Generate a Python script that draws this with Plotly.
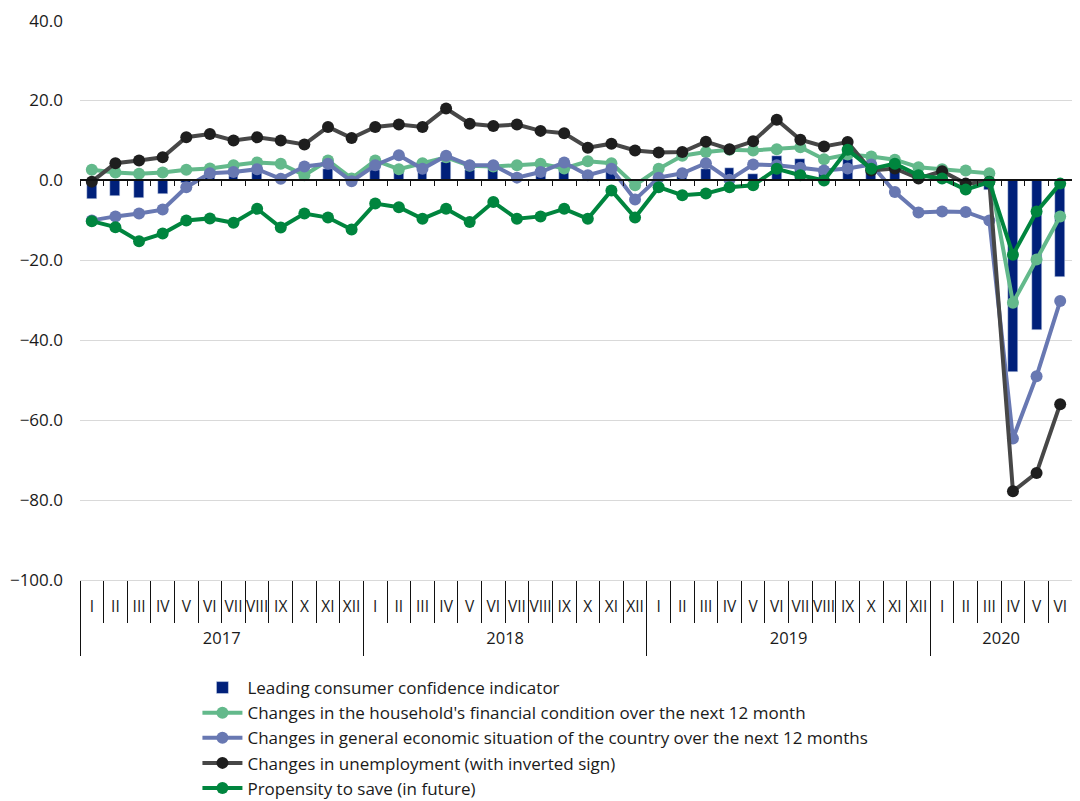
import plotly.graph_objects as go

years = ["2017", "2018", "2019", "2020"]
months_per_year = [12, 12, 12, 6]
month_names = ["I", "II", "III", "IV", "V", "VI", "VII", "VIII", "IX", "X", "XI", "XII"]

leading = [-4.6, -3.8, -4.3, -3.3, -0.7, 1.0, 1.2, 2.0, 0.3, 0.4, 2.8, 0.2,
           2.5, 2.0, 2.9, 4.5, 2.5, 2.8, 1.6, 1.5, 2.9, 1.2, 2.0, -0.5,
           0.5, 1.0, 2.9, 3.2, 1.7, 6.2, 5.4, 3.0, 5.4, 3.2, 2.5, 0.8,
           0.5, -0.5, -2.5, -47.9, -37.5, -24.2]
household = [2.7, 2.0, 1.7, 2.0, 2.7, 3.0, 3.8, 4.5, 4.2, 1.3, 5.0, 0.5,
             5.0, 2.8, 4.3, 5.8, 3.7, 3.5, 3.8, 4.2, 3.0, 4.8, 4.3, -1.2,
             2.9, 6.2, 7.1, 7.7, 7.5, 7.8, 8.3, 5.3, 6.5, 6.0, 5.2, 3.3,
             2.8, 2.5, 1.8, -30.6, -19.8, -9.0]
economy = [-10.0, -9.0, -8.3, -7.3, -1.7, 1.8, 2.1, 2.8, 0.4, 3.5, 4.2, -0.2,
           3.8, 6.3, 2.9, 6.2, 3.8, 3.8, 0.7, 2.1, 4.5, 1.3, 2.9, -4.8,
           0.7, 1.8, 4.3, 0.2, 4.0, 3.8, 3.2, 2.5, 3.0, 4.0, -2.9, -8.0,
           -7.8, -7.9, -10.0, -64.6, -49.0, -30.2]
unemployment = [-0.3, 4.3, 5.0, 5.8, 10.8, 11.6, 10.0, 10.8, 10.0, 9.0, 13.4, 10.6,
                13.4, 14.0, 13.4, 18.0, 14.2, 13.6, 14.0, 12.4, 11.8, 8.2, 9.2, 7.5,
                7.0, 7.1, 9.7, 7.8, 9.8, 15.2, 10.2, 8.5, 9.6, 2.5, 3.0, 0.5,
                2.3, -0.8, -0.3, -77.8, -73.2, -56.0]
saving = [-10.2, -11.7, -15.2, -13.3, -10.0, -9.5, -10.6, -7.1, -11.8, -8.3, -9.3, -12.3,
          -5.8, -6.7, -9.6, -7.1, -10.4, -5.4, -9.6, -9.0, -7.1, -9.6, -2.5, -9.3,
          -1.7, -3.7, -3.3, -1.7, -1.2, 2.9, 1.3, 0.0, 7.7, 2.9, 4.2, 1.3,
          0.5, -2.3, -0.4, -18.6, -7.8, -0.8]

y_ticks = [40, 20, 0, -20, -40, -60, -80, -100]

# derived positions
month_labels = []
for n in months_per_year:
    month_labels += month_names[:n]
N = len(month_labels)
xs = list(range(N))
boundaries = [i - 0.5 for i in range(N + 1)]
year_bounds = [-0.5]
year_centers = []
acc = 0
for n in months_per_year:
    year_centers.append(acc + (n - 1) / 2)
    acc += n
    year_bounds.append(acc - 0.5)

FONT = "Open Sans"
xr = [-0.5, N - 0.5]
yr = [-100, 40.15]

fig = go.Figure()
fig.add_trace(go.Bar(x=xs, y=leading, name="Leading consumer confidence indicator",
                     marker_color="#00207a", width=0.42))
line_specs = [
    (household, "Changes in the household's financial condition over the next 12 month", "#63b98b", "#63b98b"),
    (economy, "Changes in general economic situation of the country over the next 12 months", "#6878b2", "#6878b2"),
    (unemployment, "Changes in unemployment (with inverted sign)", "#474747", "#1e1e1e"),
    (saving, "Propensity to save (in future)", "#00853e", "#00853e"),
]
for vals, name, lc, mc in line_specs:
    fig.add_trace(go.Scatter(x=xs, y=vals, name=name, mode="lines+markers",
                             line=dict(color=lc, width=4),
                             marker=dict(color=mc, size=12)))

fig.update_layout(
    width=1080, height=801,
    paper_bgcolor="white", plot_bgcolor="white",
    margin=dict(l=72, r=16, t=12, b=229, autoexpand=False),
    font=dict(family=FONT, color="#1a1a1a"),
    bargap=0,
    showlegend=True,
    legend=dict(xref="container", yref="container", x=0.1754, y=0.1735,
                xanchor="left", yanchor="top",
                font=dict(family=FONT, size=17, color="#1a1a1a"),
                tracegroupgap=0, itemwidth=40, bgcolor="rgba(0,0,0,0)"),
    yaxis=dict(range=yr, tickvals=y_ticks, tickformat=".1f", automargin=False,
               showgrid=True, gridcolor="#d9d9d9", gridwidth=1.3,
               zeroline=False, showline=False, ticks="",
               ticklabelstandoff=16, tickfont=dict(size=17, family=FONT)),
    xaxis=dict(range=xr, tickmode="array", tickvals=xs, ticktext=month_labels, automargin=False,
               showgrid=False, zeroline=False, showline=True, linecolor="#d9d9d9", linewidth=1.3,
               ticks="", ticklabelstandoff=12, tickfont=dict(size=15.5, family=FONT),
               minor=dict(tickmode="array", tickvals=boundaries, ticks="outside",
                          ticklen=42, tickwidth=1.3, tickcolor="#111111", showgrid=False)),
    xaxis2=dict(range=xr, overlaying="x", anchor="free", position=(0 - yr[0]) / (yr[1] - yr[0]),
                side="bottom", showline=True, linecolor="#111111", linewidth=1.5, automargin=False,
                tickmode="array", tickvals=boundaries, ticks="outside", ticklen=5,
                tickwidth=1.3, tickcolor="#111111",
                showticklabels=False, showgrid=False, zeroline=False),
    xaxis3=dict(range=xr, overlaying="x", anchor="y", side="bottom", automargin=False,
                tickmode="array", tickvals=year_centers, ticktext=years,
                ticks="", ticklabelstandoff=46, tickfont=dict(size=16.5, family=FONT),
                showgrid=False, zeroline=False, showline=False,
                minor=dict(tickmode="array", tickvals=year_bounds, ticks="outside",
                           ticklen=75, tickwidth=1.3, tickcolor="#111111", showgrid=False)),
)
# invisible traces to activate overlay axes
fig.add_trace(go.Scatter(x=[xs[0]], y=[yr[0]], xaxis="x2", mode="markers",
                         marker=dict(opacity=0), showlegend=False, hoverinfo="skip"))
fig.add_trace(go.Scatter(x=[xs[0]], y=[yr[0]], xaxis="x3", mode="markers",
                         marker=dict(opacity=0), showlegend=False, hoverinfo="skip"))

fig.write_html("out.html")
